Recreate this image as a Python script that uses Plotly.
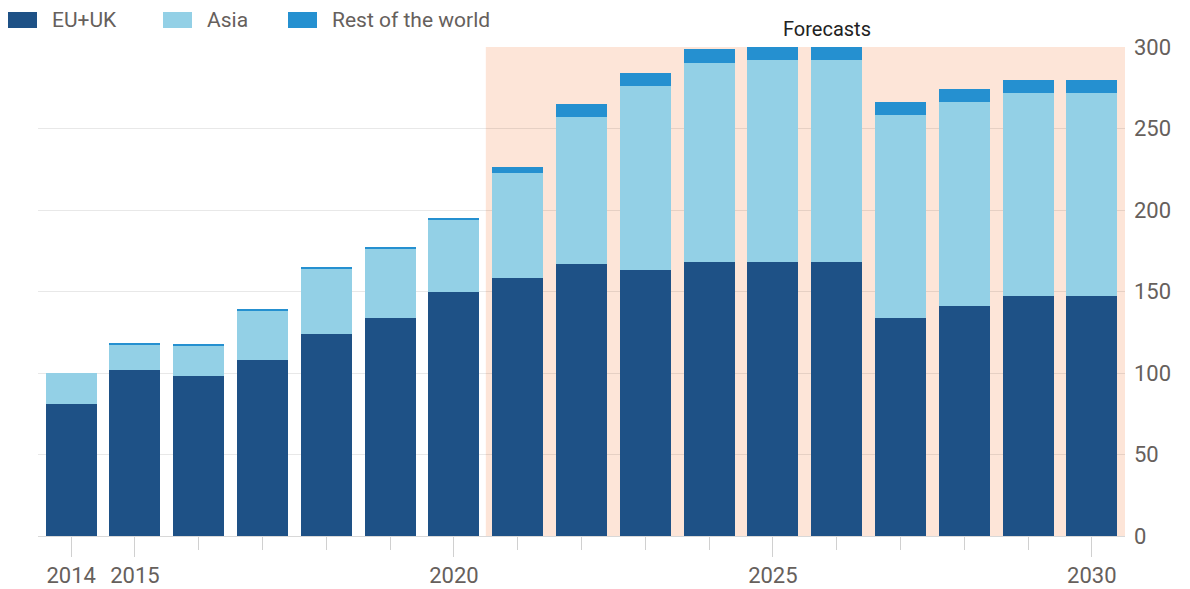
import plotly.graph_objects as go

years = list(range(2014, 2031))
eu_uk = [81, 102, 98, 108, 124, 134, 150, 158, 167, 163, 168, 168, 168, 134, 141, 147, 147]
asia = [19, 15.5, 19, 30.5, 40, 42.5, 44, 64.5, 90, 113, 122, 124, 124, 124, 125, 124.5, 124.5]
rest = [0, 0.8, 1, 0.8, 1, 1, 1, 4, 8, 8, 8.5, 8, 8, 8, 8, 8, 8]

series = [("EU+UK", eu_uk, "#1e5186"), ("Asia", asia, "#93d0e6"), ("Rest of the world", rest, "#2590d0")]
x_tick_vals = [2014, 2015, 2020, 2025, 2030]
y_tick_vals = [0, 50, 100, 150, 200, 250, 300]

FONT = "Roboto"
GRAY = "#66605c"

fig = go.Figure()
for name, vals, col in series:
    fig.add_trace(go.Bar(x=years, y=vals, name=name, marker=dict(color=col, line=dict(width=0)),
                         showlegend=False))

# forecast shading
fig.add_shape(type="rect", xref="x", yref="paper", x0=2020.5, x1=2030.52, y0=0, y1=1,
              fillcolor="#fde5d8", line=dict(width=0), layer="below")
fig.add_annotation(x=2025.85, xref="x", y=1, yref="paper", yanchor="bottom", yshift=4,
                   text="Forecasts", showarrow=False, font=dict(family=FONT, size=20, color="#222"))

# manual legend
legend_x = [8, 163, 288]
for (name, vals, col), lx in zip(series, legend_x):
    fig.add_shape(type="rect", xref="paper", yref="paper",
                  x0=(lx - 38) / 1087, x1=(lx + 29 - 38) / 1087,
                  y0=(536 - 28) / 489, y1=(536 - 12) / 489,
                  fillcolor=col, line=dict(width=0))
    fig.add_annotation(xref="paper", yref="paper", x=(lx + 42 - 38) / 1087, xanchor="left",
                       y=(536 - 20) / 489, yanchor="middle", text=name, showarrow=False,
                       font=dict(family=FONT, size=21, color=GRAY))

fig.update_layout(
    width=1190, height=589,
    margin=dict(l=38, r=65, t=47, b=53),
    barmode="stack", bargap=0.2,
    plot_bgcolor="white", paper_bgcolor="white",
    font=dict(family=FONT, size=22, color=GRAY),
    xaxis=dict(range=[2013.48, 2030.52], tickvals=x_tick_vals, ticks="outside", ticklen=20,
               tickcolor="#d0d0d0", tickwidth=1, showgrid=False, zeroline=False,
               showline=True, linecolor="#d8d8d8", automargin=False,
               minor=dict(dtick=1, tick0=2014, ticks="outside", ticklen=13, tickcolor="#d0d0d0",
                          showgrid=False),
               tickfont=dict(family=FONT, size=22, color=GRAY)),
    yaxis=dict(range=[0, 300], side="right", tickvals=y_tick_vals, showgrid=True,
               gridcolor="rgba(0,0,0,0.09)", gridwidth=1, zeroline=False, ticks="",
               automargin=False,
               ticklabelstandoff=8, tickfont=dict(family=FONT, size=22, color=GRAY)),
)

fig.write_html("out.html")
